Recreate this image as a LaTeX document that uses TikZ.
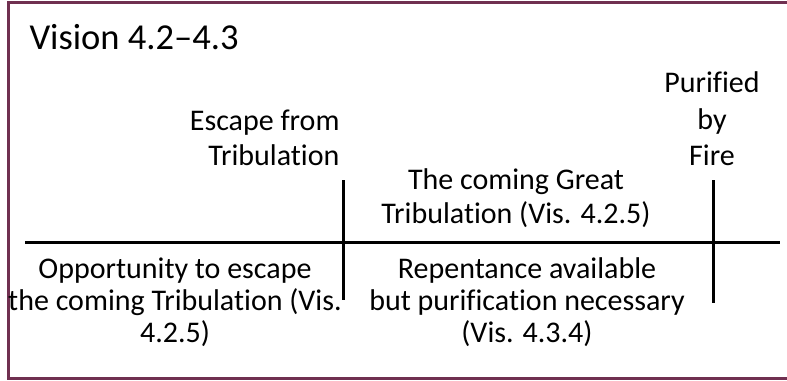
\documentclass[tikz,border=0pt]{standalone}
\usepackage{fontspec}
\setmainfont[Ligatures={TeX,NoCommon}]{Carlito}
\definecolor{framemaroon}{RGB}{112,48,80}

\tikzset{every picture/.style={line width=0.75pt}}
\tikzset{
  rule/.style={line width=2.25pt},
  timetext/.style={inner sep=0.75pt, align=center, font=\fontsize{22.5}{24}\selectfont},
}

\begin{document}
\begin{tikzpicture}[x=0.75pt,y=0.75pt,yscale=-1,xscale=1]
\useasboundingbox (0,0) rectangle (787,381);

%Frame, open on the right
\draw [color=framemaroon, line width=2.25pt] (800,3) -- (8,3) -- (8,378) -- (800,378) ;

%Line ends
\coordinate (start) at (25,242);
\coordinate (end) at (780,242);
\coordinate (escapeTop) at (343,180);
\coordinate (escapeBottom) at (343,300);
\coordinate (fireTop) at (713,180);
\coordinate (fireBottom) at (713,303);

%Straight Lines
\draw [rule] (start) -- (end) ;
\draw [rule] (escapeTop) -- (escapeBottom) ;
\draw [rule] (fireTop) -- (fireBottom) ;

% Text Node
\draw (28,50) node [anchor=base west][inner sep=0.75pt, font=\fontsize{27.4}{32}\selectfont] (title) {Vision 4.2--4.3};
% Text Node
\draw (341,138) node [anchor=east][timetext, align=right, font=\fontsize{22.5}{26}\selectfont] (escape) {Escape from\\Tribulation};
% Text Node
\draw (712,119) node [timetext, font=\fontsize{22.5}{27.5}\selectfont] (fire) {Purified\\by\\Fire};
% Text Node
\draw (516,198) node [timetext, font=\fontsize{22.5}{25.5}\selectfont] (coming) {The coming Great\\Tribulation (Vis. 4.2.5)};
% Text Node
\draw (175,302) node [timetext] (chance) {Opportunity to escape\\the coming Tribulation (Vis.\\4.2.5)};
% Text Node
\draw (527,302) node [timetext] (repent) {Repentance available\\but purification necessary\\(Vis. 4.3.4)};

\end{tikzpicture}
\end{document}
